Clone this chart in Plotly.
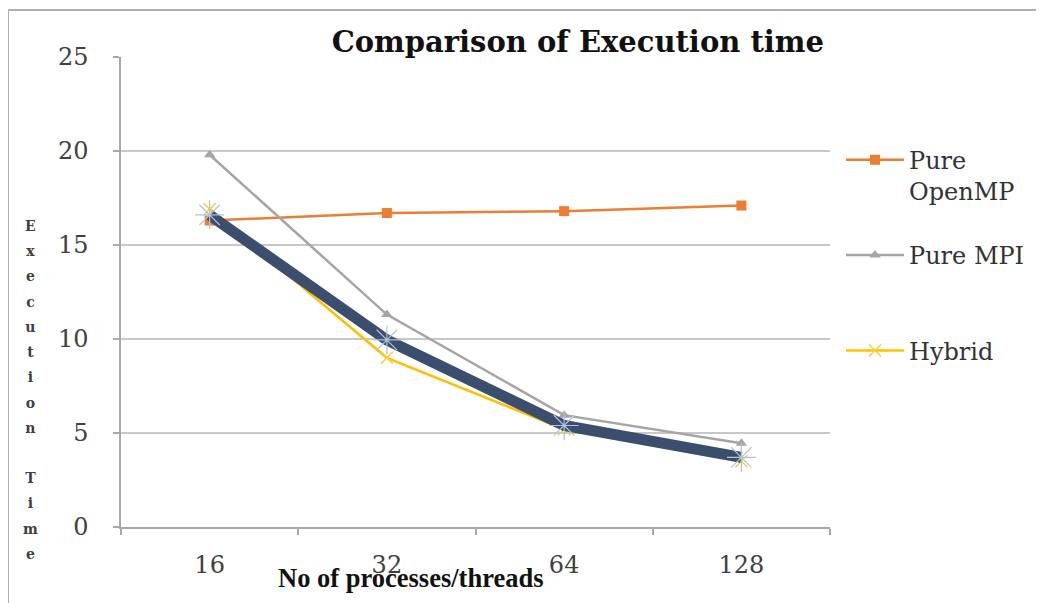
import plotly.graph_objects as go

categories = ["16", "32", "64", "128"]
pure_openmp = [16.3, 16.7, 16.8, 17.1]
pure_mpi = [19.8, 11.3, 5.95, 4.45]
hybrid = [16.9, 9.0, 5.2, 3.5]
series4 = [16.6, 9.95, 5.4, 3.7]

series_names = ["Pure<br>OpenMP", "Pure MPI<br> ", "Hybrid"]
y_title_letters = ["E", "x", "e", "c", "u", "t", "i", "o", "n", " ", "T", "i", "m", "e"]

fig = go.Figure()
fig.add_trace(go.Scatter(
    x=categories, y=pure_openmp, name=series_names[0], mode="lines+markers",
    line=dict(color="#ED7D31", width=2.5),
    marker=dict(symbol="square", size=10, color="#ED7D31"),
    legendgroup="a"))
fig.add_trace(go.Scatter(
    x=categories, y=pure_mpi, name=series_names[1], mode="lines+markers",
    line=dict(color="#A5A5A5", width=2.5),
    marker=dict(symbol="triangle-up", size=10, color="#A5A5A5"),
    legendgroup="b"))
fig.add_trace(go.Scatter(
    x=categories, y=hybrid, name=series_names[2], mode="lines+markers",
    line=dict(color="#FFC000", width=2.5),
    marker=dict(symbol="x-thin-open", size=12, color="#F5D040", line=dict(width=1.5, color="#F5D040")),
    legendgroup="c"))
fig.add_trace(go.Scatter(
    x=categories, y=series4, name="Series4", mode="lines+markers", showlegend=False,
    line=dict(color="#3B4E6E", width=11),
    marker=dict(symbol="asterisk-open", size=24, color="#AFC3D8", line=dict(width=1.2, color="#AFC3D8"))))

fig.add_annotation(
    text="<br>".join('<b><span style="font-size:14px">%s</span></b>' % c if c != " " else " "
                     for c in y_title_letters),
    xref="paper", yref="paper", x=-0.128, y=0.292, xanchor="center", yanchor="middle",
    showarrow=False,
    font=dict(family="DejaVu Serif", size=19.4, color="#404040"))

fig.add_annotation(
    text="<b>No of processes/threads</b>", xref="paper", yref="paper",
    x=0.408, y=-0.1085, xanchor="center", yanchor="middle", showarrow=False,
    font=dict(family="Liberation Serif", size=26.5, color="#111111"))

fig.add_shape(type="rect", xref="paper", yref="paper",
              x0=-0.1594, y0=-0.3, x1=1.4, y1=1.1,
              line=dict(color="#B0B0B0", width=2), layer="below")

fig.update_layout(
    width=1036, height=595,
    margin=dict(l=113, r=214, t=49, b=76),
    paper_bgcolor="white", plot_bgcolor="white",
    title=dict(text="<b>Comparison of Execution time</b>", x=0.55, xanchor="center",
               y=0.943, yanchor="middle",
               font=dict(family="DejaVu Serif", size=29, color="#111111")),
    legend=dict(x=1.0155, y=0.8285, xanchor="left", yanchor="top",
                font=dict(family="DejaVu Serif", size=24, color="#333333"),
                tracegroupgap=30, traceorder="grouped", itemwidth=58, valign="top",
                bgcolor="rgba(0,0,0,0)"),
    showlegend=True,
)
fig.update_xaxes(
    type="category", range=[-0.5, 3.5], tickson="boundaries",
    showline=True, linecolor="#A8A8A8", linewidth=1.5,
    ticks="outside", ticklen=6, tickcolor="#A8A8A8", tickwidth=1.5,
    showgrid=False, ticklabelstandoff=15,
    tickfont=dict(family="DejaVu Serif", size=24, color="#404040"))
fig.update_yaxes(
    range=[0, 25], dtick=5, showline=True, linecolor="#A8A8A8", linewidth=1.5,
    ticks="outside", ticklen=6, tickcolor="#A8A8A8", tickwidth=1.5,
    showgrid=True, gridcolor="#C8C8C8", gridwidth=1.5, zeroline=False,
    ticklabelstandoff=20,
    tickfont=dict(family="DejaVu Serif", size=24, color="#404040"))

fig.write_html("out.html")
